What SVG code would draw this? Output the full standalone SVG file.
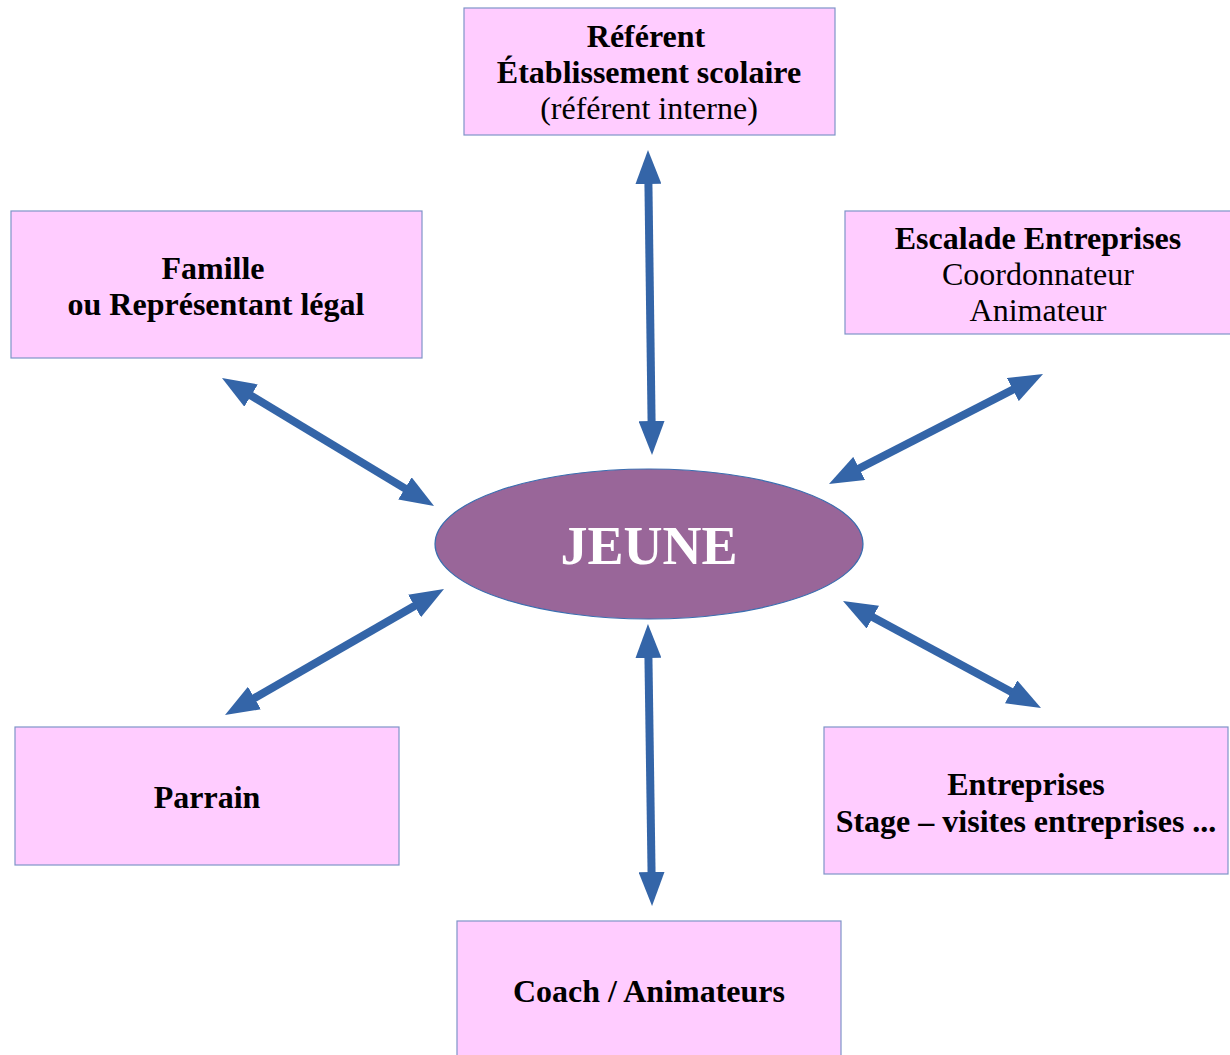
<svg xmlns="http://www.w3.org/2000/svg" width="1230" height="1055" viewBox="0 0 1230 1055">
<defs>
<marker id="ah" viewBox="0 0 34 26" refX="10" refY="13" markerWidth="34" markerHeight="26" markerUnits="userSpaceOnUse" orient="auto-start-reverse">
<path d="M0,0 L34,13 L0,26 Z" fill="#3465a8"/>
</marker>
<style>
.box{fill:#ffccff;stroke:#7f94c8;stroke-width:1.2}
.t{font-family:"Liberation Serif","Times New Roman",serif;font-size:32px;fill:#000;text-anchor:middle}
.b{font-weight:bold}
.c{stroke:#3465a8;stroke-width:8;fill:none;marker-start:url(#ah);marker-end:url(#ah)}
</style>
</defs>
<rect width="1230" height="1055" fill="#fff"/>
<g id="connectors">
<line class="c" x1="648.3" y1="174" x2="651.7" y2="431"/>
<line class="c" x1="242.5" y1="390.4" x2="413.5" y2="493.6"/>
<line class="c" x1="1021.7" y1="385" x2="850.3" y2="473"/>
<line class="c" x1="423.2" y1="601" x2="245.8" y2="703"/>
<line class="c" x1="864.1" y1="612.4" x2="1019.9" y2="696.6"/>
<line class="c" x1="648.3" y1="648" x2="651.7" y2="882"/>
</g>
<g id="jeune">
<ellipse cx="649" cy="544" rx="214" ry="75" fill="#996699" stroke="#3a6eb0" stroke-width="1.2"/>
<text class="t b" x="649" y="564" style="font-size:54px;fill:#fff">JEUNE</text>
</g>
<g id="referent">
<rect class="box" x="464" y="8" width="371" height="127"/>
<text class="t b" x="646" y="47">Référent</text>
<text class="t b" x="649" y="83">Établissement scolaire</text>
<text class="t" x="649" y="119">(référent interne)</text>
</g>
<g id="famille">
<rect class="box" x="11" y="211" width="411" height="147"/>
<text class="t b" x="213" y="279">Famille</text>
<text class="t b" x="216" y="315">ou Représentant légal</text>
</g>
<g id="escalade">
<rect class="box" x="845" y="211" width="386" height="123"/>
<text class="t b" x="1038" y="249">Escalade Entreprises</text>
<text class="t" x="1038" y="285">Coordonnateur</text>
<text class="t" x="1038" y="321">Animateur</text>
</g>
<g id="parrain">
<rect class="box" x="15" y="727" width="384" height="138"/>
<text class="t b" x="207" y="808">Parrain</text>
</g>
<g id="entreprises">
<rect class="box" x="824" y="727" width="404" height="147"/>
<text class="t b" x="1026" y="795">Entreprises</text>
<text class="t b" x="1026" y="832">Stage – visites entreprises ...</text>
</g>
<g id="coach">
<rect class="box" x="457" y="921" width="384" height="140"/>
<text class="t b" x="649" y="1002">Coach / Animateurs</text>
</g>
</svg>
